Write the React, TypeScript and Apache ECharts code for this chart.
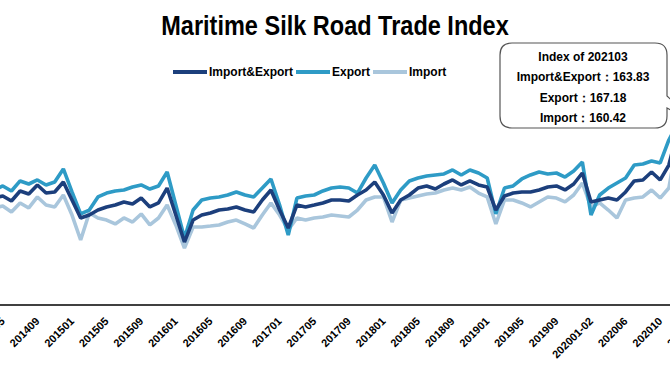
import React, { useEffect, useRef } from "react";
import * as echarts from "echarts";

const categories = [
  "201401","201402","201403","201404","201405","201406","201407","201408","201409","201410","201411","201412",
  "201501","201502","201503","201504","201505","201506","201507","201508","201509","201510","201511","201512",
  "201601","201602","201603","201604","201605","201606","201607","201608","201609","201610","201611","201612",
  "201701","201702","201703","201704","201705","201706","201707","201708","201709","201710","201711","201712",
  "201801","201802","201803","201804","201805","201806","201807","201808","201809","201810","201811","201812",
  "201901","201902","201903","201904","201905","201906","201907","201908","201909","201910","201911","201912",
  "202001-02","202003","202004","202005","202006","202007","202008","202009","202010","202011","202012",
  "202101","202102","202103",
];

const importExportValues = [
  96.0, 98.0, 97.0, 97.5, 99.2, 95.1, 103.3, 100.8, 108.2, 101.6, 102.5, 110.6,
  95.9, 81.2, 83.6, 87.7, 90.2, 91.8, 94.3, 92.6, 97.5, 90.2, 93.5, 105.7,
  83.6, 61.5, 79.5, 83.6, 85.3, 87.7, 88.5, 90.2, 87.7, 86.1, 95.9, 104.1,
  87.7, 73.0, 91.8, 90.2, 91.8, 93.5, 95.9, 95.9, 95.1, 100.0, 104.1, 110.6,
  100.0, 85.3, 95.9, 100.0, 105.7, 107.4, 104.9, 109.0, 112.3, 108.2, 111.5, 108.2,
  106.5, 87.7, 99.2, 101.6, 102.5, 102.5, 104.1, 106.5, 107.4, 104.1, 109.0, 118.0,
  94.3, 95.9, 97.5, 95.9, 102.5, 111.5, 112.3, 118.8, 112.3, 124.5, 152.0,
  150.0, 138.0, 163.83,
];

const exportValues = [
  103.0, 106.0, 105.0, 104.1, 107.4, 103.3, 111.5, 109.0, 112.3, 108.2, 110.6, 121.3,
  102.5, 84.5, 87.7, 98.4, 101.6, 103.3, 104.1, 106.5, 108.2, 104.9, 107.4, 118.8,
  91.8, 64.8, 87.7, 95.9, 97.5, 98.4, 100.0, 102.5, 100.0, 98.4, 105.7, 113.1,
  91.8, 67.3, 97.5, 99.2, 100.0, 103.3, 105.7, 106.5, 105.7, 101.6, 113.9, 124.5,
  109.8, 93.5, 104.1, 111.5, 113.9, 115.5, 116.4, 117.2, 120.5, 116.4, 120.5, 118.0,
  113.9, 84.5, 105.7, 107.4, 113.1, 116.4, 118.8, 117.2, 118.0, 114.7, 119.6, 127.0,
  83.6, 100.0, 105.7, 109.8, 113.9, 124.5, 125.4, 127.8, 126.2, 145.0, 158.0,
  155.0, 140.0, 167.18,
];

const importValues = [
  88.0, 90.0, 89.0, 89.4, 91.0, 86.1, 93.5, 89.4, 98.4, 91.8, 90.2, 100.0,
  83.6, 63.2, 85.3, 81.2, 79.5, 76.3, 81.2, 77.9, 84.5, 75.5, 81.2, 91.8,
  75.5, 56.6, 73.8, 73.8, 74.6, 75.5, 77.9, 79.5, 76.3, 73.0, 83.6, 93.5,
  83.6, 71.4, 81.2, 79.5, 81.2, 82.0, 83.6, 82.8, 82.0, 87.7, 95.9, 98.4,
  98.4, 77.9, 95.9, 97.5, 99.2, 100.8, 101.6, 104.1, 105.7, 104.1, 106.5, 101.6,
  98.4, 76.3, 95.9, 95.9, 93.5, 90.2, 94.3, 98.4, 97.5, 94.3, 100.0, 109.8,
  90.2, 93.5, 87.7, 81.2, 95.9, 97.5, 98.4, 104.1, 97.5, 105.7, 145.0,
  140.0, 128.0, 160.42,
];

const seriesNames = ["Import&Export", "Export", "Import"];
const seriesColors = ["#1c3f7c", "#2e9bc6", "#a9c6dc"];
const titleText = "Maritime Silk Road Trade Index";
const calloutLines = [
  "Index of 202103",
  "Import&Export：163.83",
  "Export：167.18",
  "Import：160.42",
];

// visible window is 670 wide; the chart canvas is wider and shifted left by OFFSET
const OFFSET = 45;
const CANVAS_W = 760;

const calloutPath =
  "M557 43 H700 Q712 43 712 55 V96 L745 126 L712 108 V116 Q712 128 700 128 H557 Q545 128 545 116 V55 Q545 43 557 43 Z";

const SMALL_FONT = "'Liberation Sans', Arial, sans-serif";

export default function App() {
  const ref = useRef<HTMLDivElement>(null);

  useEffect(() => {
    if (!ref.current) return;
    try {
      echarts.graphic.registerShape("callout", echarts.graphic.extendPath(calloutPath, {}) as any);
    } catch (e) {}
    const chart = echarts.init(ref.current, undefined, { renderer: "svg" });
    const allSeries = [importExportValues, exportValues, importValues];
    const option: any = {
      animation: false,
      backgroundColor: "#ffffff",
      legend: {
        left: 173 + OFFSET,
        top: 66,
        padding: 0,
        itemGap: 3,
        itemWidth: 34,
        itemHeight: 4,
        icon: "rect",
        data: seriesNames,
        textStyle: {
          fontFamily: SMALL_FONT,
          fontWeight: "bold",
          fontSize: 12,
          color: "#000",
          padding: [0, 0, 0, -3],
        },
      },
      grid: {
        left: OFFSET - 36.125,
        right: CANVAS_W - OFFSET - 707.775,
        top: 85,
        bottom: 75,
        containLabel: false,
        outerBoundsMode: "none",
      },
      xAxis: {
        type: "category",
        data: categories,
        boundaryGap: true,
        axisLine: { show: true, lineStyle: { color: "#000", width: 1.5 } },
        axisTick: { show: false },
        axisLabel: {
          interval: 3,
          rotate: 45,
          margin: 14,
          fontFamily: SMALL_FONT,
          fontWeight: "bold",
          fontSize: 11,
          color: "#000",
        },
        splitLine: { show: false },
      },
      yAxis: {
        type: "value",
        min: 10,
        max: 190,
        show: false,
        splitLine: { show: false },
      },
      series: seriesNames.map((name, k) => ({
        name,
        type: "line",
        data: allSeries[k],
        symbol: "none",
        color: seriesColors[k],
        lineStyle: { color: seriesColors[k], width: 3.6 },
        z: 3 - k,
      })),
      graphic: [
        {
          type: "text",
          x: 335 + OFFSET,
          y: 25,
          scaleX: 0.84,
          originX: 0,
          originY: 0,
          style: {
            text: titleText,
            fill: "#000",
            font: "bold 28px " + SMALL_FONT,
            textAlign: "center",
            align: "center",
            textVerticalAlign: "middle",
            verticalAlign: "middle",
          },
        },
        {
          type: "callout",
          x: 0,
          y: 0,
          z: 100,
          style: { fill: "#ffffff", stroke: "#555555", lineWidth: 1.2 },
        },
        ...calloutLines.map((t, i) => ({
          type: "text",
          z: 101,
          x: 583 + OFFSET,
          y: 57 + i * 20.3,
          style: {
            text: t,
            fill: "#000",
            font: "bold 12px " + SMALL_FONT,
            textAlign: "center",
            align: "center",
            textVerticalAlign: "middle",
            verticalAlign: "middle",
          },
        })),
      ],
    };
    chart.setOption(option);
    return () => {
      chart.dispose();
    };
  }, []);

  return (
    <div
      style={{
        position: "fixed",
        left: 0,
        top: 0,
        width: 670,
        height: 380,
        overflow: "hidden",
        background: "#fff",
      }}
    >
      <div
        ref={ref}
        style={{ position: "absolute", left: -OFFSET, top: 0, width: CANVAS_W, height: 380 }}
      />
    </div>
  );
}
